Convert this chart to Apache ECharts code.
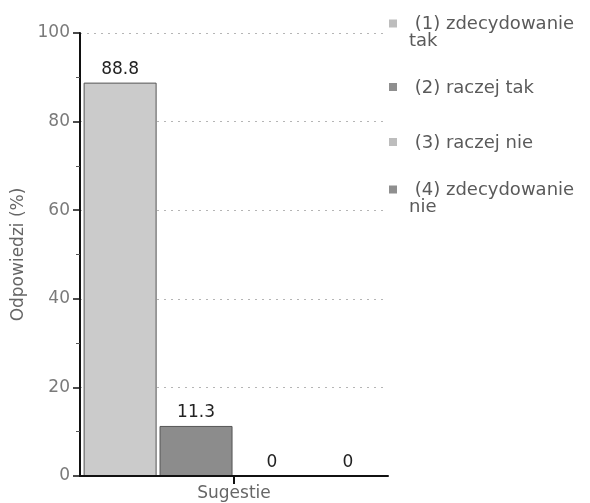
<!DOCTYPE html>
<html><head><meta charset="utf-8">
<script src="https://cdn.jsdelivr.net/npm/echarts@6/dist/echarts.min.js"></script>
<style>html,body{margin:0;padding:0;background:#fff}#c{width:590px;height:503px}</style>
</head><body><div id="c"></div>
<script>
const categories = ['Sugestie'];
const seriesNames = ['(1) zdecydowanie\ntak', '(2) raczej tak', '(3) raczej nie', '(4) zdecydowanie\nnie'];
const seriesValues = [[88.8], [11.3], [0], [0]];
const yTicks = [0, 20, 40, 60, 80, 100];

const barColors = ['#cbcbcb', '#8c8c8c', '#cbcbcb', '#8c8c8c'];
const iconColors = ['#bdbdbd', '#8f8f8f', '#bdbdbd', '#8f8f8f'];

function icon(color, top) {
  const y = top ? 4 : 12;
  const svg = `<svg xmlns="http://www.w3.org/2000/svg" width="10" height="34" viewBox="0 0 10 34"><rect x="1" y="${y}" width="8" height="8" fill="${color}"/></svg>`;
  return 'image://data:image/svg+xml;charset=utf-8,' + encodeURIComponent(svg);
}

const chart = echarts.init(document.getElementById('c'), null, {renderer: 'canvas'});
const font = 'DejaVu Sans';
chart.setOption({
  animation: false,
  backgroundColor: '#ffffff',
  grid: {left: 80, right: 202, top: 33, bottom: 27, containLabel: false},
  legend: {
    orient: 'vertical',
    left: 388,
    top: 15,
    padding: 0,
    itemWidth: 10,
    itemHeight: 34,
    itemGap: 21,
    data: seriesNames.map((n, i) => ({name: n, icon: icon(iconColors[i], n.indexOf('\n') >= 0)})),
    formatter: n => ' ' + n,
    textStyle: {color: '#5a5a5a', fontSize: 18, fontFamily: font, lineHeight: 17, padding: [0, 0, 0, 6]}
  },
  xAxis: [{
    type: 'category',
    data: categories,
    z: 5,
    axisLine: {lineStyle: {color: '#111', width: 2}},
    axisTick: {show: false},
    axisLabel: {color: '#666', fontSize: 17, fontFamily: font, margin: 9}
  }, {
    type: 'value',
    position: 'bottom',
    min: 0, max: 1,
    z: 6,
    axisLine: {show: false},
    axisTick: {show: true, customValues: [0.5], length: 8, lineStyle: {color: '#111', width: 2}},
    axisLabel: {show: false},
    splitLine: {show: false}
  }],
  yAxis: {
    type: 'value',
    min: 0, max: 100, interval: 20,
    name: 'Odpowiedzi (%)',
    nameLocation: 'middle',
    nameRotate: 90,
    nameGap: 52,
    nameTextStyle: {color: '#666', fontSize: 17, fontFamily: font},
    axisLine: {show: true, lineStyle: {color: '#111', width: 2}},
    axisTick: {show: true, length: 7, lineStyle: {color: '#111', width: 1.5}},
    minorTick: {show: true, splitNumber: 2, length: 4, lineStyle: {color: '#555'}},
    axisLabel: {color: '#7a7a7a', fontSize: 17, fontFamily: font, margin: 10,
      formatter: v => yTicks.includes(v) ? String(v) : ''},
    splitLine: {show: true, lineStyle: {color: '#b5b5b5', type: [2, 5], width: 1}}
  },
  series: seriesNames.map((n, i) => ({
    name: n,
    type: 'bar',
    xAxisIndex: 0,
    data: seriesValues[i],
    barWidth: 73,
    barGap: '4%',
    itemStyle: {color: barColors[i], borderColor: '#555', borderWidth: seriesValues[i][0] > 0 ? 1 : 0},
    label: {show: true, position: 'top', distance: 5, color: '#222', fontSize: 17, fontFamily: font}
  }))
});
</script></body></html>
